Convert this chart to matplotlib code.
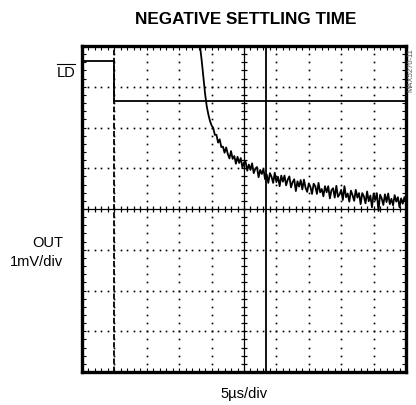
import numpy as np
import matplotlib
matplotlib.use("Agg")
import matplotlib.pyplot as plt
from matplotlib.lines import Line2D

# ---- data (time in us, voltage in mV) ----
title = "NEGATIVE SETTLING TIME"
x_label = "5\u00b5s/div"
ld_label = "LD"
out_label = ["OUT", "1mV/div"]
code_label = "MAX5270-11"

ld_t = [0.0, 5.0, 5.0, 50.0]
ld_v = [3.63, 3.63, 2.65, 2.65]

edge_t = 5.0          # OUT fast edge (faint dashed trace)
cursor_t = 28.4       # cursor line

out_t = [17.6, 17.8] + list(np.arange(18.0, 50.01, 0.25))
out_v = [5.0, 4.65,
         4.30, 3.95, 3.60, 3.20, 2.82, 2.52, 2.32, 2.16,
         2.05, 1.99, 1.82, 1.82, 1.63, 1.71, 1.52, 1.53,
         1.38, 1.51, 1.35, 1.24, 1.42, 1.23, 1.30, 1.11,
         1.28, 1.13, 1.25, 1.02, 1.14, 1.16, 0.94, 1.09,
         0.96, 1.12, 0.88, 0.99, 1.03, 0.78, 0.96, 0.86,
         0.98, 0.73, 0.85, 0.64, 0.88, 0.79, 0.64, 0.89,
         0.66, 0.79, 0.56, 0.82, 0.67, 0.82, 0.58, 0.72,
         0.80, 0.53, 0.66, 0.73, 0.44, 0.68, 0.55, 0.71,
         0.48, 0.72, 0.52, 0.42, 0.63, 0.54, 0.37, 0.62,
         0.56, 0.37, 0.64, 0.41, 0.49, 0.31, 0.56, 0.41,
         0.56, 0.26, 0.46, 0.51, 0.28, 0.57, 0.30, 0.36,
         0.47, 0.22, 0.56, 0.29, 0.38, 0.18, 0.45, 0.34,
         0.20, 0.47, 0.28, 0.39, 0.12, 0.39, 0.31, 0.14,
         0.43, 0.19, 0.33, 0.04, 0.38, 0.22, 0.39, -0.05,
         0.35, 0.26, 0.10, 0.36, 0.17, 0.38, 0.12, 0.25,
         0.09, 0.34, 0.18, 0.29, 0.04, 0.26, 0.13, 0.29,
         0.17]

# ---- figure ----
W, H = 416, 405
fig = plt.figure(figsize=(W / 100, H / 100), dpi=100)
L, R, T, B = 82, 406, 46, 372
ax = fig.add_axes([L / W, 1 - B / H, (R - L) / W, (B - T) / H])
ax.set_xlim(0, 50)
ax.set_ylim(-4, 4)

fam = ["Liberation Sans", "DejaVu Sans"]

# frame
for s in ax.spines.values():
    s.set_linewidth(2.4)
    s.set_color("black")
ax.set_xticks(np.arange(0, 50.1, 5))
ax.set_yticks(np.arange(-4, 4.1, 1))
ax.set_xticks(np.arange(0, 50.1, 1), minor=True)
ax.set_yticks(np.arange(-4, 4.1, 0.2), minor=True)
ax.tick_params(which="both", direction="in", length=3, width=0.8,
               top=True, right=True, labelbottom=False, labelleft=False)

# dotted graticule
for xv in np.arange(5, 50, 5):
    if xv == 25:
        continue
    ys = np.arange(-4, 4.01, 0.2)
    ax.plot(np.full_like(ys, xv), ys, ls="none", marker="s", ms=1.2,
            mec="none", mfc="black")
for yv in np.arange(-3, 4, 1):
    if yv == 0:
        continue
    xs = np.arange(0, 50.01, 1)
    ax.plot(xs, np.full_like(xs, yv), ls="none", marker="s", ms=1.2,
            mec="none", mfc="black")

# center lines with ticks
ax.axhline(0, color="black", lw=0.9)
ax.axvline(25, color="black", lw=0.9)
xs = np.arange(0, 50.01, 1)
ax.plot(xs, np.zeros_like(xs), ls="none", marker="|", ms=4.5, mew=0.9, color="black")
ys = np.arange(-4, 4.01, 0.2)
ax.plot(np.full_like(ys, 25), ys, ls="none", marker="_", ms=4.5, mew=0.9, color="black")

# traces
ax.plot([edge_t, edge_t], [-4, 4], color="black", lw=1.3, ls=(0, (3, 1.5)))
ax.axvline(cursor_t, color="black", lw=1.3)
ax.plot(ld_t, ld_v, color="black", lw=1.3)
ax.plot(out_t, out_v, color="black", lw=1.3, clip_on=True)

# texts
fig.text(246 / W, 1 - 20 / H, title, ha="center", va="center",
         fontsize=12.3, fontweight="bold", family=fam)
fig.text(244 / W, 1 - 394 / H, x_label, ha="center", va="center",
         fontsize=10.5, family=fam)
fig.text(63 / W, 1 - 243 / H, out_label[0], ha="right", va="center",
         fontsize=10.5, family=fam)
fig.text(63 / W, 1 - 262 / H, out_label[1], ha="right", va="center",
         fontsize=10.5, family=fam)
fig.text(75 / W, 1 - 73 / H, ld_label, ha="right", va="center",
         fontsize=10.5, family=fam)
fig.add_artist(Line2D([57 / W, 75 / W], [1 - 64 / H, 1 - 64 / H],
                      color="black", lw=0.8))
fig.text(411 / W, 1 - 70 / H, code_label, ha="center", va="center",
         rotation=90, fontsize=5.5, color="#555555", family=fam)

fig.savefig("out.png", dpi=100)
